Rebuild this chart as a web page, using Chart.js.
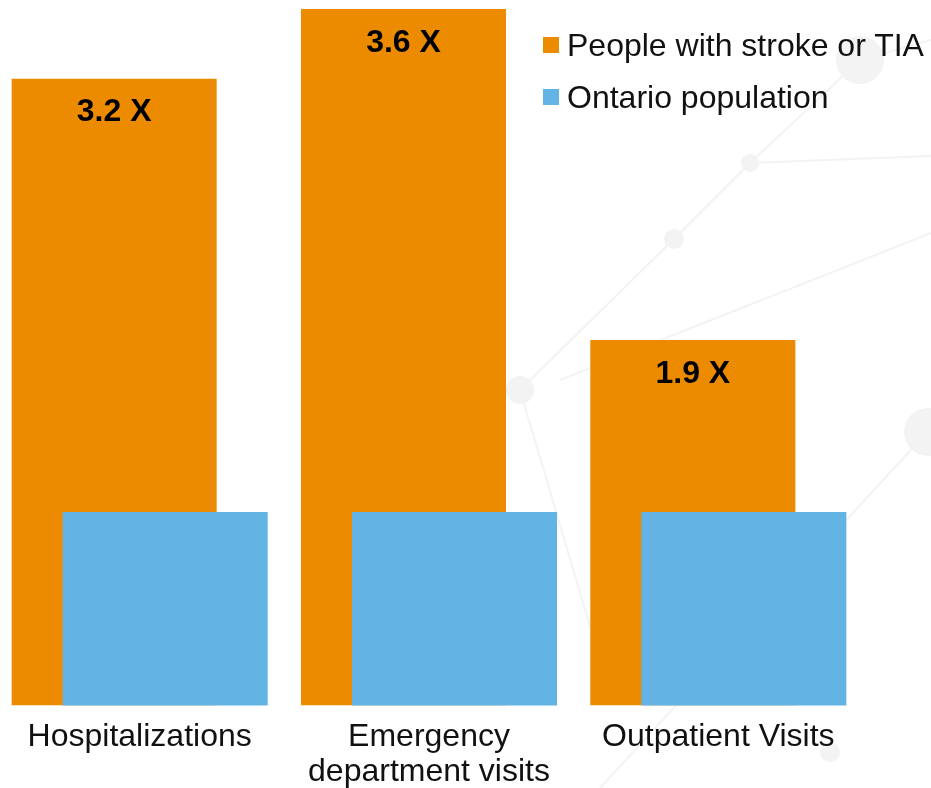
<!DOCTYPE html>
<html>
<head>
<meta charset="utf-8">
<script src="https://cdn.jsdelivr.net/npm/chart.js@4"></script>
<style>
  html, body { margin: 0; padding: 0; background: #fff; }
  body { width: 931px; height: 788px; position: relative; overflow: hidden; font-family: "Liberation Sans", Arial, sans-serif; }
  #bg { position: absolute; left: 0; top: 0; }
  #wrap { position: absolute; left: -5px; top: 0; width: 936px; height: 804px; }
  #legend { position: absolute; left: 543px; top: 19px; font-size: 32px; color: #111; }
  .item { display: flex; align-items: center; height: 52px; }
  .sw { width: 16px; height: 16px; margin-right: 8px; }
</style>
</head>
<body>
<svg id="bg" width="931" height="788">
  <g stroke="#f3f3f3" stroke-width="2" fill="none">
    <line x1="520" y1="390" x2="674" y2="239"/>
    <line x1="674" y1="239" x2="750" y2="163"/>
    <line x1="750" y1="163" x2="860" y2="60"/>
    <line x1="750" y1="163" x2="931" y2="156"/>
    <line x1="560" y1="380" x2="931" y2="233"/>
    <line x1="860" y1="60" x2="931" y2="40"/>
    <line x1="600" y1="788" x2="920" y2="440"/>
    <line x1="520" y1="390" x2="600" y2="660"/>
  </g>
  <g fill="#f3f3f3">
    <circle cx="674" cy="239" r="10"/>
    <circle cx="750" cy="163" r="9"/>
    <circle cx="520" cy="390" r="14"/>
    <circle cx="860" cy="60" r="24"/>
    <circle cx="928" cy="432" r="24"/>
    <circle cx="830" cy="752" r="10"/>
  </g>
</svg>
<div id="wrap"><canvas id="chart"></canvas></div>
<div id="legend">
  <div class="item"><div class="sw" style="background:#ed8b00"></div>People with stroke or TIA</div>
  <div class="item"><div class="sw" style="background:#63b4e4"></div>Ontario population</div>
</div>
<script>
const categories = [["Hospitalizations"], ["Emergency", "department visits"], ["Outpatient Visits"]];
const strokeValues = [3.24, 3.6, 1.89];
const ontarioValues = [1, 1, 1];
const ratioLabels = ["3.2 X", "3.6 X", "1.9 X"];

const orange = "#ed8b00";
const blue = "#63b4e4";

// blue bars sit in front of the orange ones, so draw them last
const blueOnTop = {
  id: "blueOnTop",
  beforeDatasetDraw(chart, args) {
    if (args.index === 1) return false;
  },
  afterDatasetsDraw(chart) {
    chart.getDatasetMeta(1).controller.draw();
    const ctx = chart.ctx;
    ctx.save();
    ctx.font = "bold 32px 'Liberation Sans', Arial, sans-serif";
    ctx.fillStyle = "#000";
    ctx.textAlign = "center";
    ctx.textBaseline = "middle";
    chart.getDatasetMeta(0).data.forEach((bar, i) => {
      ctx.fillText(ratioLabels[i], bar.x, bar.y + 34);
    });
    ctx.restore();
  },
};

new Chart(document.getElementById("chart"), {
  type: "bar",
  data: {
    labels: categories,
    datasets: [
      { label: "People with stroke or TIA", data: strokeValues, backgroundColor: orange, categoryPercentage: 0.3526, barPercentage: 4.02 },
      { label: "Ontario population", data: ontarioValues, backgroundColor: blue, categoryPercentage: 0.3526, barPercentage: 4.02 },
    ],
  },
  plugins: [blueOnTop],
  options: {
    responsive: true,
    maintainAspectRatio: false,
    animation: false,
    layout: { padding: { left: 0, right: 68, top: 9, bottom: 0 } },
    scales: {
      x: {
        grid: { display: false, drawTicks: false },
        border: { display: false },
        ticks: { color: "#111", font: { size: 32, family: "'Liberation Sans', Arial, sans-serif", lineHeight: 1.1 }, padding: 14, maxRotation: 0, autoSkip: false },
      },
      y: { display: false, min: 0, max: 3.6 },
    },
    plugins: {
      legend: { display: false },
      tooltip: { enabled: false },
    },
  },
});
</script>
</body>
</html>
